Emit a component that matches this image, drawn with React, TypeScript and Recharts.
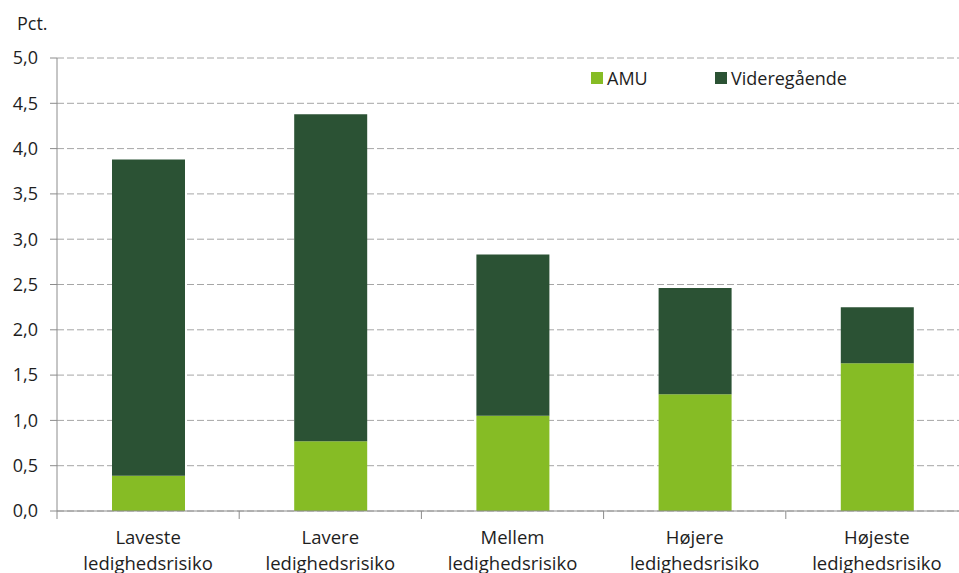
import React from "react";
import { Bar, BarChart, CartesianGrid, XAxis, YAxis } from "recharts";

const categories = [
  ["Laveste", "ledighedsrisiko"],
  ["Lavere", "ledighedsrisiko"],
  ["Mellem", "ledighedsrisiko"],
  ["Højere", "ledighedsrisiko"],
  ["Højeste", "ledighedsrisiko"],
];
const amu = [0.39, 0.77, 1.05, 1.29, 1.63];
const videregaaende = [3.49, 3.61, 1.78, 1.17, 0.62];
const yTicks = [0, 0.5, 1, 1.5, 2, 2.5, 3, 3.5, 4, 4.5, 5];

const COLORS = {
  amu: "#86bc25",
  vid: "#2b5234",
  grid: "#a6a6a6",
  axis: "#8c8c8c",
  text: "#1e1e1e",
};

const FONT = "'Open Sans', 'Noto Sans', sans-serif";

const data = categories.map((c, i) => ({
  name: c.join(" "),
  amu: amu[i],
  vid: videregaaende[i],
}));

// category labels on two lines, plus the tick marks between the categories
function CategoryTick(props: any) {
  const { x, y, index, payload, visibleTicksCount } = props;
  const lines = categories[index] ?? [];
  const half = payload?.offset ?? 0;
  return (
    <g>
      <line x1={x - half} x2={x - half} y1={y} y2={y + 8} stroke={COLORS.axis} />
      {index === visibleTicksCount - 1 ? (
        <line x1={x + half} x2={x + half} y1={y} y2={y + 8} stroke={COLORS.axis} />
      ) : null}
      <text x={x} y={y} textAnchor="middle" fill={COLORS.text} fontSize={18.5} fontFamily={FONT}>
        {lines.map((l, i) => (
          <tspan key={i} x={x} dy={i === 0 ? 33 : 26}>
            {l}
          </tspan>
        ))}
      </text>
    </g>
  );
}

function LegendBox() {
  const items = [
    { label: "AMU", color: COLORS.amu },
    { label: "Videregående", color: COLORS.vid },
  ];
  return (
    <div
      style={{
        position: "absolute",
        left: 591,
        top: 66,
        display: "flex",
        fontFamily: FONT,
        fontSize: 18,
        color: COLORS.text,
        whiteSpace: "nowrap",
      }}
    >
      {items.map((it) => (
        <div key={it.label} style={{ display: "flex", alignItems: "center", minWidth: 124 }}>
          <span
            style={{
              width: 12,
              height: 12,
              flexShrink: 0,
              background: it.color,
              marginRight: 4,
              display: "inline-block",
            }}
          />
          <span>{it.label}</span>
        </div>
      ))}
    </div>
  );
}

export default function App() {
  return (
    <div
      style={{
        position: "absolute",
        left: 0,
        top: 0,
        width: 959,
        height: 573,
        overflow: "hidden",
        background: "#fff",
      }}
    >
      <div
        style={{
          position: "absolute",
          left: 17,
          top: 11,
          fontFamily: FONT,
          fontSize: 18,
          color: COLORS.text,
        }}
      >
        Pct.
      </div>
      <BarChart width={968} height={573} data={data} margin={{ top: 58, right: 0, left: 0, bottom: 0 }}>
        <CartesianGrid vertical={false} stroke={COLORS.grid} strokeDasharray="7 3" />
        <XAxis
          dataKey="name"
          height={62}
          axisLine={{ stroke: COLORS.axis }}
          tickLine={false}
          tickSize={0}
          tickMargin={0}
          interval={0}
          tick={<CategoryTick />}
        />
        <YAxis
          width={57}
          domain={[0, 5]}
          ticks={yTicks}
          interval={0}
          axisLine={{ stroke: COLORS.axis }}
          tickLine={{ stroke: COLORS.axis }}
          tickSize={7}
          tickMargin={12}
          tickFormatter={(v: number) => v.toFixed(1).replace(".", ",")}
          tick={{ fill: COLORS.text, fontSize: 18, fontFamily: FONT }}
        />
        <Bar dataKey="amu" name="AMU" stackId="a" fill={COLORS.amu} barSize={73} isAnimationActive={false} />
        <Bar
          dataKey="vid"
          name="Videregående"
          stackId="a"
          fill={COLORS.vid}
          barSize={73}
          isAnimationActive={false}
        />
      </BarChart>
      <LegendBox />
    </div>
  );
}
